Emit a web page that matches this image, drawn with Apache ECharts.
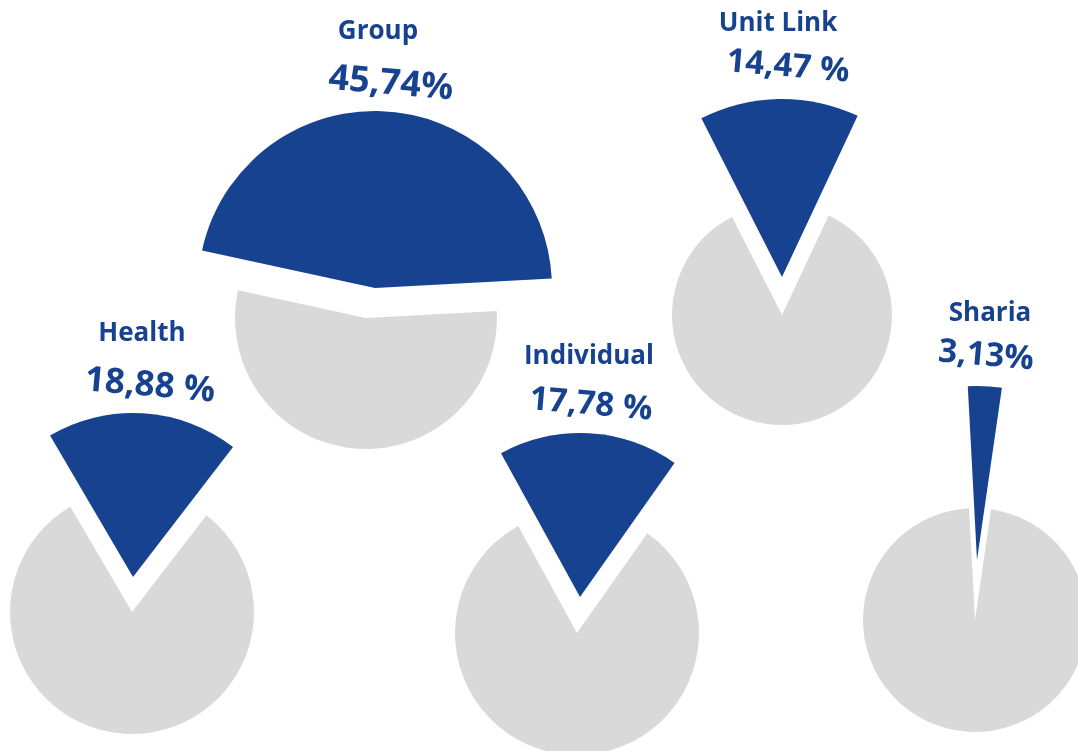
<!DOCTYPE html>
<html>
<head>
<meta charset="utf-8">
<title>Portfolio share by line of business</title>
<script src="https://cdn.jsdelivr.net/npm/echarts@6/dist/echarts.min.js"></script>
<style>
  html, body { margin: 0; padding: 0; background: #ffffff; }
  #chart { width: 1078px; height: 751px; }
</style>
</head>
<body>
<div id="chart"></div>
<script>
// Business lines and their share of the portfolio (percent)
const segments = ['Group', 'Unit Link', 'Health', 'Individual', 'Sharia'];
const shares = [45.74, 14.47, 18.88, 17.78, 3.13];
// Separator printed between the number and the percent sign
const percentGaps = ['', ' ', ' ', ' ', ''];

// Placement of each small pie: remainder disc, exploded slice, labels
const layout = [
  { disc: [366, 318], discR: 131, slice: [375, 288], sliceR: 177, axis: 85.4, title: [378, 32], value: [391, 84], valueSize: 36 },
  { disc: [782, 315], discR: 110, slice: [782, 277], sliceR: 178, axis: 90.9, title: [778, 24], value: [788, 67], valueSize: 33 },
  { disc: [132, 612], discR: 122, slice: [133, 577], sliceR: 164, axis: 86.4, title: [142, 334], value: [150, 386], valueSize: 35 },
  { disc: [577, 633], discR: 122, slice: [580, 597], sliceR: 164, axis: 86.8, title: [589, 357], value: [591, 405], valueSize: 33 },
  { disc: [975, 620], discR: 112, slice: [977, 560], sliceR: 174, axis: 87.4, title: [990, 314], value: [986, 356], valueSize: 33 }
];

const BLUE = '#17428f';
const GREY = '#d9d9d9';
const NONE = 'rgba(0,0,0,0)';

function formatShare(v, gap) {
  return v.toFixed(2).replace('.', ',') + gap + '%';
}

const series = [];
const graphics = [];

segments.forEach(function (name, i) {
  const share = shares[i];
  const rest = 100 - share;
  const L = layout[i];
  // slice is centred on its axis direction; pie runs clockwise from startAngle
  const startAngle = L.axis + share * 3.6 / 2;
  const common = {
    type: 'pie',
    startAngle: startAngle,
    clockwise: true,
    silent: true,
    animation: false,
    avoidLabelOverlap: false,
    label: { show: false },
    labelLine: { show: false },
    emphasis: { disabled: true },
    itemStyle: { borderWidth: 0 }
  };
  // remainder of the pie (grey), with the share cut out
  series.push(Object.assign({}, common, {
    name: name + ' rest',
    center: L.disc,
    radius: L.discR,
    data: [
      { name: name, value: share, itemStyle: { color: NONE } },
      { name: 'Other', value: rest, itemStyle: { color: GREY } }
    ]
  }));
  // the share itself (blue), pulled out and drawn larger
  series.push(Object.assign({}, common, {
    name: name,
    center: L.slice,
    radius: L.sliceR,
    data: [
      { name: name, value: share, itemStyle: { color: BLUE } },
      { name: 'Other', value: rest, itemStyle: { color: NONE } }
    ]
  }));

  graphics.push({
    type: 'text',
    x: L.title[0],
    y: L.title[1],
    silent: true,
    style: {
      text: name,
      fill: BLUE,
      font: 'bold 26px "Open Sans", "Noto Sans", sans-serif',
      textAlign: 'center',
      textVerticalAlign: 'middle'
    }
  });
  graphics.push({
    type: 'text',
    x: L.value[0],
    y: L.value[1],
    rotation: -5 * Math.PI / 180,
    silent: true,
    style: {
      text: formatShare(share, percentGaps[i]),
      fill: BLUE,
      font: 'bold ' + L.valueSize + 'px "Open Sans", "Noto Sans", sans-serif',
      textAlign: 'center',
      textVerticalAlign: 'middle'
    }
  });
});

const chart = echarts.init(document.getElementById('chart'), null, { renderer: 'canvas' });
chart.setOption({
  backgroundColor: '#ffffff',
  animation: false,
  series: series,
  graphic: graphics
});
</script>
</body>
</html>
